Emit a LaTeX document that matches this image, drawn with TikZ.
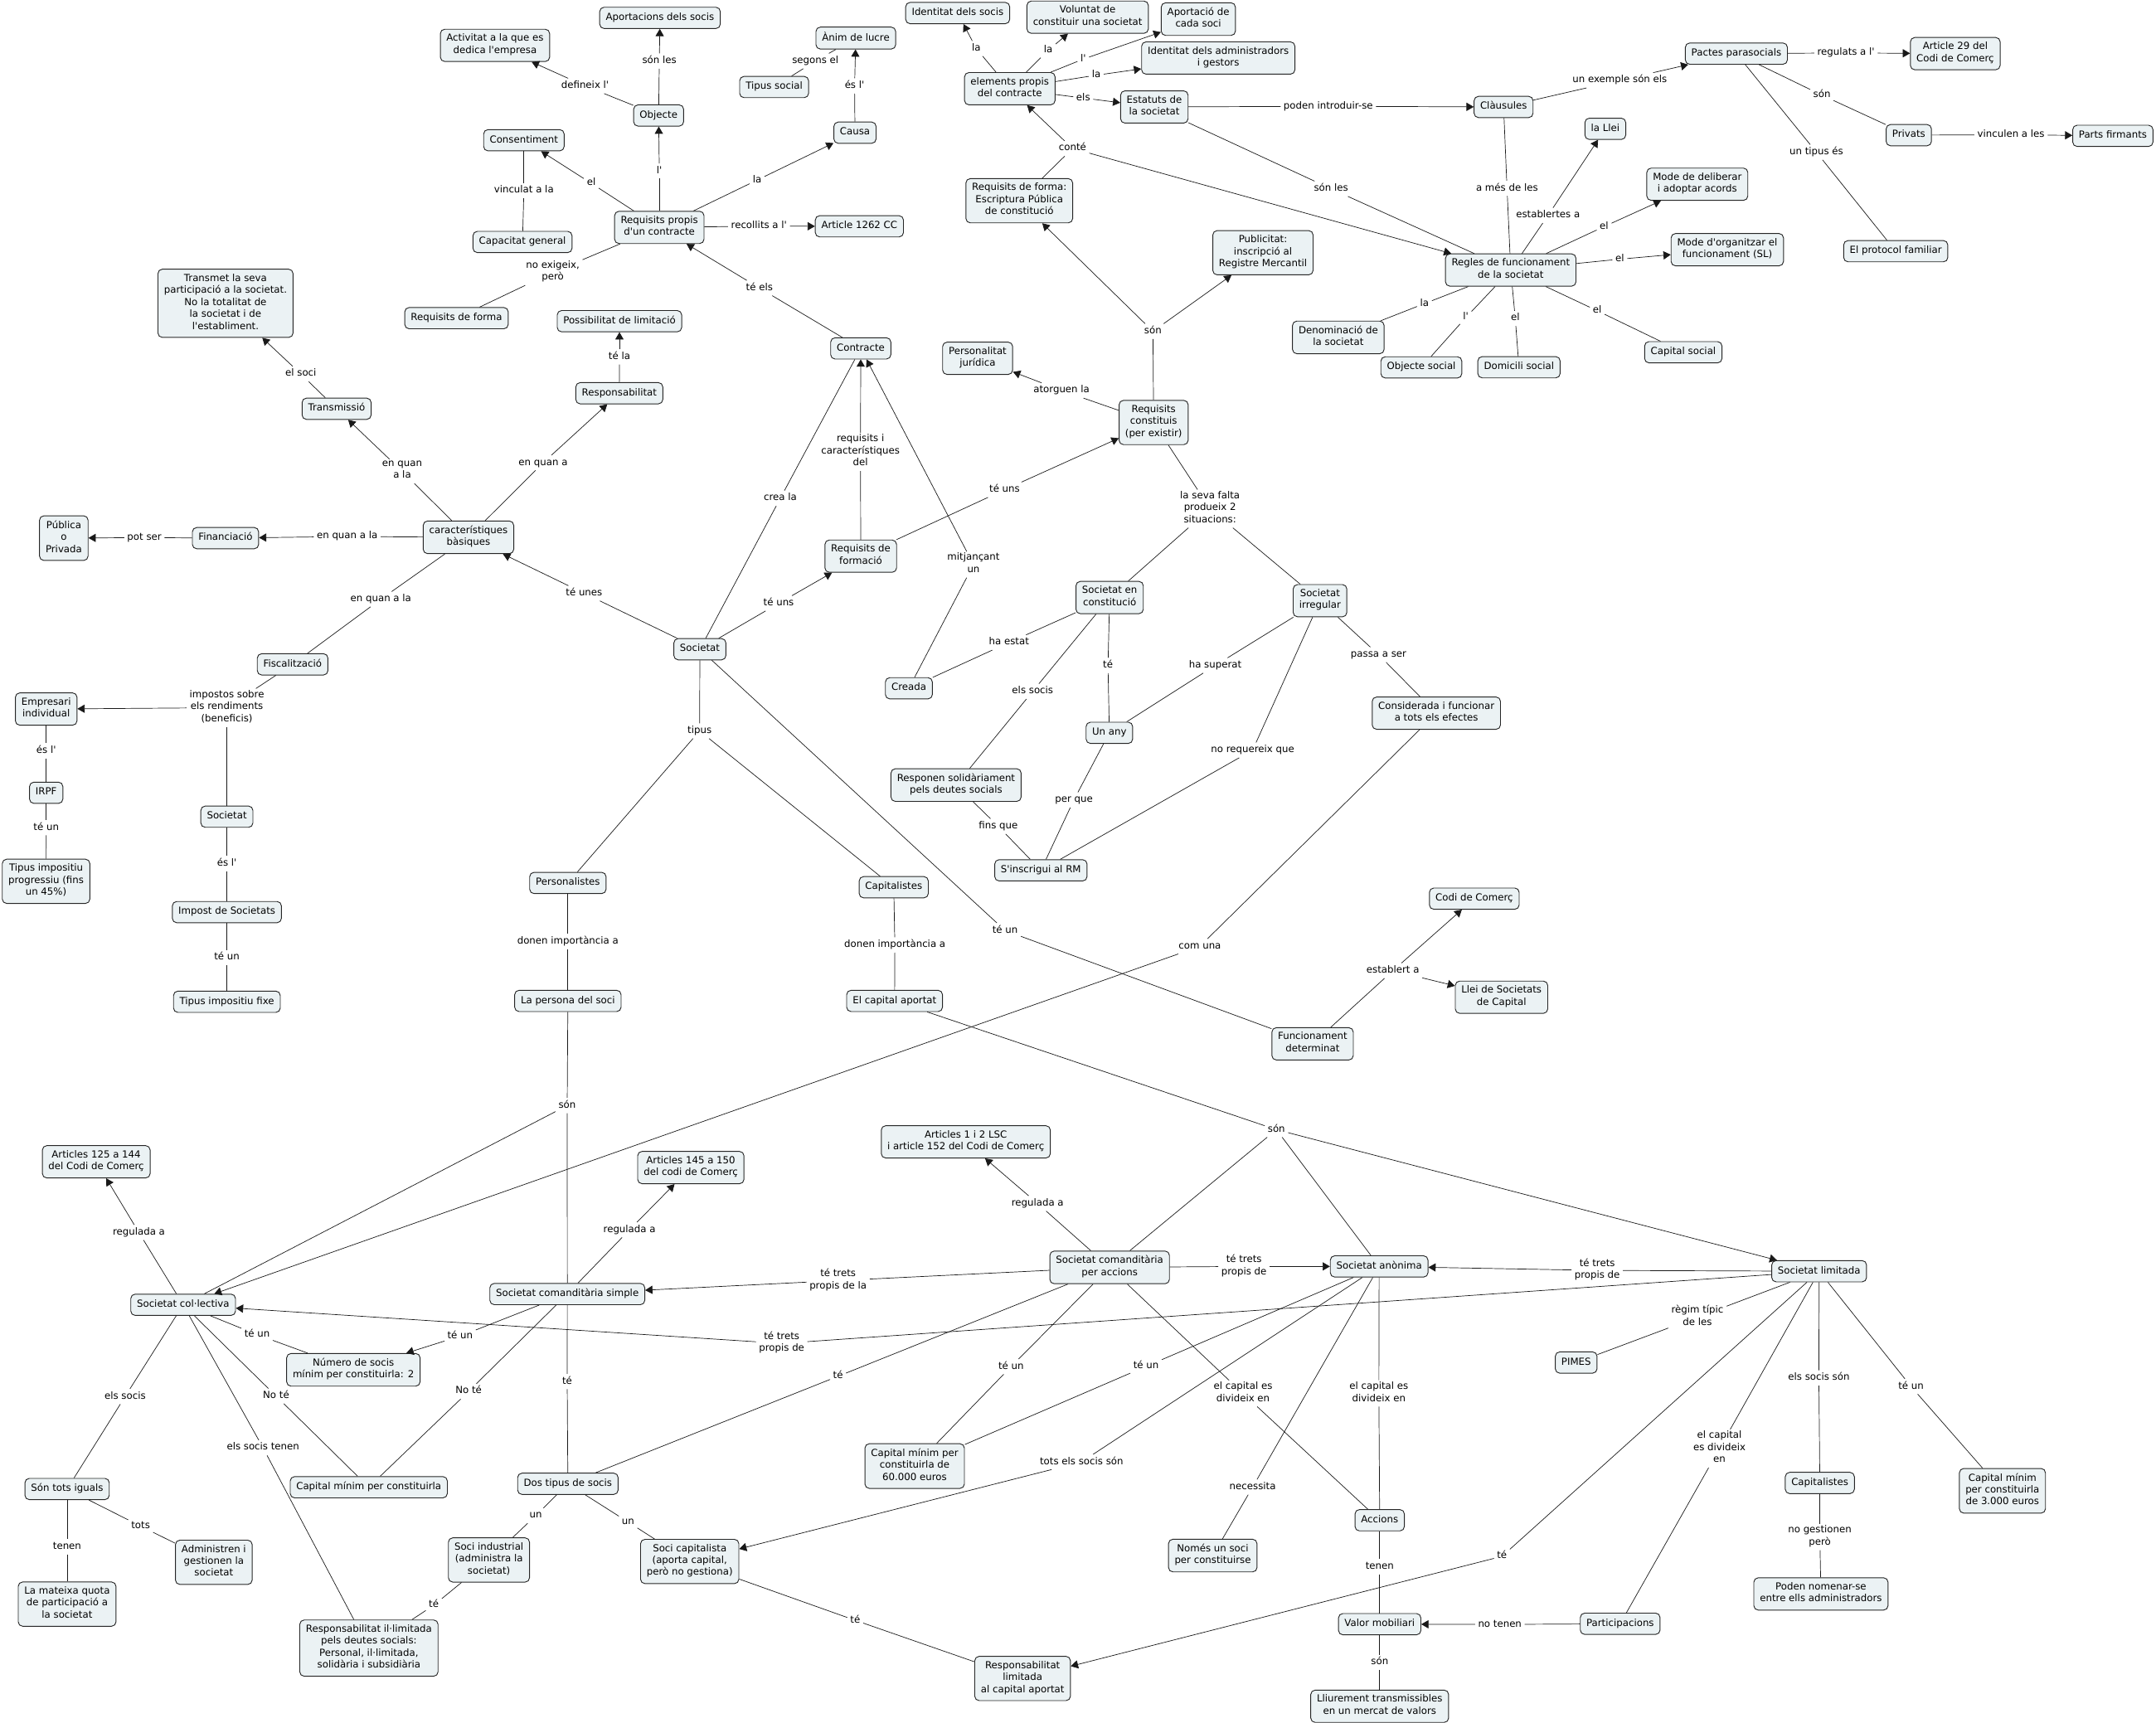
\documentclass[tikz,border=0pt]{standalone}
\usepackage{fontspec}
\newfontfamily\cmapfont{DejaVu Sans}
\usepackage{xcolor}
\usepackage{tikz}
\usetikzlibrary{arrows.meta}

\definecolor{cfill}{RGB}{235,242,244}

\begin{document}
\begin{tikzpicture}[
    x=0.05cm, y=-0.05cm,
    concept/.style={
        rectangle,
        draw=black!85,
        line width=0.8pt,
        fill=cfill,
        rounded corners=4.5pt,
        font=\cmapfont\fontsize{10.1}{12.4}\selectfont,
        align=center,
        inner xsep=6.3pt,
        inner ysep=4.8pt,
        execute at begin node=\strut,
        execute at end node=\strut
    },
    linkword/.style={
        font=\cmapfont\fontsize{10.1}{12.4}\selectfont,
        align=center,
        inner xsep=3pt,
        inner ysep=1.5pt,
        execute at begin node=\strut,
        execute at end node=\strut
    },
    conn/.style={
        line width=0.6pt,
        color=black!90
    },
    arrow/.style={
        conn,
        -{Triangle[length=7.5pt, width=8.5pt]}
    }
]

\fill[white] (0,0) rectangle (1568,1253);
\useasboundingbox (0,0) rectangle (1568,1253);

% contracte i caracteristiques
\node[concept] (act) at (360,33) {Activitat a la que es\\dedica l'empresa};
\node[concept] (aport) at (480,13) {Aportacions dels socis};
\node[concept] (objecte) at (479,84) {Objecte};
\node[concept] (consent) at (381,102) {Consentiment};
\node[concept] (capgen) at (380,176) {Capacitat general};
\node[concept] (reqprop) at (479.5,165.4) {Requisits propis\\d'un contracte};
\node[concept] (art1262) at (625,164.6) {Article 1262 CC};
\node[concept] (anim) at (622.4,27.7) {Ànim de lucre};
\node[concept] (tipsoc) at (563,63.3) {Tipus social};
\node[concept] (causa) at (621.8,96.5) {Causa};
\node[concept] (reqforma) at (332,231.4) {Requisits de forma};
\node[concept] (possib) at (450.5,233.6) {Possibilitat de limitació};
\node[concept] (resp) at (450.4,286) {Responsabilitat};
\node[concept] (transmet) at (164,220.6) {Transmet la seva\\participació a la societat.\\No la totalitat de\\la societat i de\\l'establiment.};
\node[concept] (transmissio) at (244.8,297.3) {Transmissió};
\node[concept] (contracte) at (626,253.4) {Contracte};
\node[concept] (publica) at (46.4,391.4) {Pública\\o\\Privada};
\node[concept] (financ) at (164,391.4) {Financiació};
\node[concept] (caract) at (340.7,390.8) {característiques\\bàsiques};
\node[concept] (reqformacio) at (626,404.5) {Requisits de\\formació};
\node[concept] (fiscal) at (212.8,483.2) {Fiscalització};
\node[concept] (societat) at (509,472.2) {Societat};
\node[concept] (empresari) at (33.6,515.7) {Empresari\\individual};
\node[concept] (irpf) at (33.6,576.6) {IRPF};
\node[concept] (tipprog) at (33.5,641) {Tipus impositiu\\progressiu (fins\\un 45\%)};
\node[concept] (societatb) at (165,594) {Societat};
\node[concept] (impsoc) at (165,663.4) {Impost de Societats};
\node[concept] (tipfix) at (165,728.6) {Tipus impositiu fixe};
\node[concept] (creada) at (661,500.6) {Creada};
\node[concept] (personalistes) at (413,642.2) {Personalistes};
\node[concept] (capitalistes) at (650,645.3) {Capitalistes};
\node[concept] (persona) at (413,728) {La persona del soci};
\node[concept] (capaport) at (650.6,728) {El capital aportat};

% requisits, estatuts i regles
\node[concept] (identitat) at (696.5,9.5) {Identitat dels socis};
\node[concept] (voluntat) at (791,12.5) {Voluntat de\\constituir una societat};
\node[concept] (aportcada) at (871.5,13.9) {Aportació de\\cada soci};
\node[concept] (identadm) at (886,42.2) {Identitat dels administradors\\i gestors};
\node[concept] (elements) at (734.4,64.5) {elements propis\\del contracte};
\node[concept] (estatuts) at (839.5,77.8) {Estatuts de\\la societat};
\node[concept] (clausules) at (1093.5,77.8) {Clàusules};
\node[concept] (pactes) at (1262.8,39) {Pactes parasocials};
\node[concept] (art29) at (1422,39) {Article 29 del\\Codi de Comerç};
\node[concept] (privats) at (1388.2,98.3) {Privats};
\node[concept] (parts) at (1536.6,98.8) {Parts firmants};
\node[concept] (llei) at (1167.5,93.7) {la Llei};
\node[concept] (protocol) at (1378.7,182.7) {El protocol familiar};
\node[concept] (deliberar) at (1234.4,134) {Mode de deliberar\\i adoptar acords};
\node[concept] (organitzar) at (1256.2,181.6) {Mode d'organitzar el\\funcionament (SL)};
\node[concept] (regles) at (1098.7,196.4) {Regles de funcionament\\de la societat};
\node[concept] (reqformaesc) at (741.3,146) {Requisits de forma:\\Escriptura Pública\\de constitució};
\node[concept] (publicitat) at (918.5,183.8) {Publicitat:\\inscripció al\\Registre Mercantil};
\node[concept] (denomin) at (973.3,245.4) {Denominació de\\la societat};
\node[concept] (objsocial) at (1033.7,267.2) {Objecte social};
\node[concept] (domicili) at (1104.7,267.1) {Domicili social};
\node[concept] (capsocial) at (1224.2,256.2) {Capital social};
\node[concept] (personalitat) at (711,260.6) {Personalitat\\jurídica};
\node[concept] (reqconst) at (839,307.3) {Requisits\\constituis\\(per existir)};
\node[concept] (socconst) at (807,434.6) {Societat en\\constitució};
\node[concept] (socirreg) at (960,436.9) {Societat\\irregular};
\node[concept] (unany) at (806.8,533) {Un any};
\node[concept] (considerada) at (1044.6,518.7) {Considerada i funcionar\\a tots els efectes};
\node[concept] (responen) at (695.3,571) {Responen solidàriament\\pels deutes socials};
\node[concept] (inscrigui) at (757,633) {S'inscrigui al RM};
\node[concept] (codicomerc) at (1072.2,653.6) {Codi de Comerç};
\node[concept] (lleisoc) at (1092,725.3) {Llei de Societats\\de Capital};
\node[concept] (funcdet) at (954.6,759.2) {Funcionament\\determinat};

% tipus de societats
\node[concept] (art125) at (70,845) {Articles 125 a 144\\del Codi de Comerç};
\node[concept] (art145) at (502.4,849.2) {Articles 145 a 150\\del codi de Comerç};
\node[concept] (art1i2) at (702.4,830.5) {Articles 1 i 2 LSC\\i article 152 del Codi de Comerç};
\node[concept] (soccol) at (133.2,949) {Societat col·lectiva};
\node[concept] (socsimple) at (412.6,941.2) {Societat comanditària simple};
\node[concept] (socaccions) at (807,921.8) {Societat comanditària\\per accions};
\node[concept] (socanonima) at (1003,921.1) {Societat anònima};
\node[concept] (soclimitada) at (1323,924.6) {Societat limitada};
\node[concept] (numsocis) at (257,996.3) {Número de socis\\mínim per constituirla: 2};
\node[concept] (pimes) at (1146.3,991) {PIMES};
\node[concept] (sontots) at (48.8,1083) {Són tots iguals};
\node[concept] (capminim) at (268.2,1081.7) {Capital mínim per constituirla};
\node[concept] (dostipus) at (413,1079.2) {Dos tipus de socis};
\node[concept] (cap60) at (665.2,1066.3) {Capital mínim per\\constituirla de\\60.000 euros};
\node[concept] (capitalistesb) at (1323.5,1078.6) {Capitalistes};
\node[concept] (cap3000) at (1456.3,1084.3) {Capital mínim\\per constituirla\\de 3.000 euros};
\node[concept] (administren) at (155.5,1136.3) {Administren i\\gestionen la\\societat};
\node[concept] (mateixa) at (48.8,1166.7) {La mateixa quota\\de participació a\\la societat};
\node[concept] (sociind) at (355.6,1134.6) {Soci industrial\\(administra la\\societat)};
\node[concept] (socicap) at (501.6,1135.7) {Soci capitalista\\(aporta capital,\\però no gestiona)};
\node[concept] (respil) at (268.3,1198.7) {Responsabilitat il·limitada\\pels deutes socials:\\Personal, il·limitada,\\solidària i subsidiària};
\node[concept] (resplim) at (743.7,1220.8) {Responsabilitat\\limitada\\al capital aportat};
\node[concept] (nomessoc) at (882,1131.4) {Només un soci\\per constituirse};
\node[concept] (accions) at (1003.4,1105.7) {Accions};
\node[concept] (valor) at (1003.4,1181.3) {Valor mobiliari};
\node[concept] (participacions) at (1178.3,1181) {Participacions};
\node[concept] (lliurement) at (1003.4,1241) {Lliurement transmissibles\\en un mercat de valors};
\node[concept] (poden) at (1324.3,1159.3) {Poden nomenar-se\\entre ells administradors};

% paraules d'enllac
\node[linkword] (t1) at (425.5,62.5) {defineix l'};
\node[linkword] (t2) at (479.5,44.4) {són les};
\node[linkword] (t3) at (479.5,124.4) {l'};
\node[linkword] (t4) at (430,133.3) {el};
\node[linkword] (t5) at (550.6,131) {la};
\node[linkword] (t6) at (552,164.5) {recollits a l'};
\node[linkword] (t7) at (402,198) {no exigeix,\\però};
\node[linkword] (t8) at (381,138.7) {vinculat a la};
\node[linkword] (t9) at (621.5,62.5) {és l'};
\node[linkword] (t10) at (593,44.4) {segons el};
\node[linkword] (t11) at (552.3,209.5) {té els};
\node[linkword] (t12) at (450.5,259.6) {té la};
\node[linkword] (t13) at (395,336.6) {en quan a};
\node[linkword] (t14) at (292.5,342.8) {en quan\\a la};
\node[linkword] (t15) at (218.8,272) {el soci};
\node[linkword] (t16) at (252.5,390.2) {en quan a la};
\node[linkword] (t17) at (105,391) {pot ser};
\node[linkword] (t18) at (277,435.8) {en quan a la};
\node[linkword] (t19) at (165,514.7) {impostos sobre\\els rendiments\\(beneficis)};
\node[linkword] (t20) at (33.6,546.2) {és l'};
\node[linkword] (t21) at (33.6,602) {té un};
\node[linkword] (t22) at (165,628) {és l'};
\node[linkword] (t23) at (165,696.4) {té un};
\node[linkword] (t24) at (424.8,431.5) {té unes};
\node[linkword] (t25) at (567.5,362.4) {crea la};
\node[linkword] (t26) at (625.8,328.7) {requisits i\\característiques\\del};
\node[linkword] (t27) at (708,410.6) {mitjançant\\un};
\node[linkword] (t28) at (566.3,438.8) {té uns};
\node[linkword] (t29) at (730.6,356.2) {té uns};
\node[linkword] (t30) at (508.8,531.6) {tipus};
\node[linkword] (t31) at (413,684.8) {donen importància a};
\node[linkword] (t32) at (650.8,687.3) {donen importància a};
\node[linkword] (t33) at (731,676.8) {té un};
\node[linkword] (t34) at (1013,706) {establert a};
\node[linkword] (t35) at (412.5,804.1) {són};
\node[linkword] (t36) at (872.6,688.3) {com una};
\node[linkword] (t37) at (928.3,821.6) {són};
\node[linkword] (t39) at (710,35.3) {la};
\node[linkword] (t40) at (762.3,36.6) {la};
\node[linkword] (t41) at (787.8,43) {l'};
\node[linkword] (t42) at (797.3,54.7) {la};
\node[linkword] (t43) at (787.8,71.3) {els};
\node[linkword] (t44) at (780,108) {conté};
\node[linkword] (t45) at (966,77.3) {poden introduir-se};
\node[linkword] (t46) at (968,137.3) {són les};
\node[linkword] (t47) at (1178,58.4) {un exemple són els};
\node[linkword] (t48) at (1342.5,38.5) {regulats a l'};
\node[linkword] (t49) at (1325,69.2) {són};
\node[linkword] (t50) at (1462.5,98) {vinculen a les};
\node[linkword] (t51) at (1321,110.7) {un tipus és};
\node[linkword] (t52) at (1096,137) {a més de les};
\node[linkword] (t53) at (1125.8,156.7) {establertes a};
\node[linkword] (t54) at (1166.6,164.8) {el};
\node[linkword] (t55) at (1178,188.5) {el};
\node[linkword] (t56) at (1161.6,226) {el};
\node[linkword] (t57) at (1036,220.8) {la};
\node[linkword] (t58) at (1066,231) {l'};
\node[linkword] (t59) at (1102,231.6) {el};
\node[linkword] (t60) at (838.5,241) {són};
\node[linkword] (t61) at (772,284) {atorguen la};
\node[linkword] (t62) at (880,370) {la seva falta\\produeix 2\\situacions:};
\node[linkword] (t63) at (733.8,467.3) {ha estat};
\node[linkword] (t64) at (751,502.9) {els socis};
\node[linkword] (t65) at (805.8,484) {té};
\node[linkword] (t66) at (883.8,484) {ha superat};
\node[linkword] (t67) at (911,545.6) {no requereix que};
\node[linkword] (t68) at (1002.6,476.2) {passa a ser};
\node[linkword] (t69) at (726,601) {fins que};
\node[linkword] (t70) at (781,581.8) {per que};
\node[linkword] (t71) at (101,896.4) {regulada a};
\node[linkword] (t72) at (457.8,894.5) {regulada a};
\node[linkword] (t73) at (754.6,875.3) {regulada a};
\node[linkword] (t74) at (609.5,931.4) {té trets\\propis de la};
\node[linkword] (t75) at (904.7,921.1) {té trets\\propis de};
\node[linkword] (t76) at (1161.6,924) {té trets\\propis de};
\node[linkword] (t77) at (568.5,977.1) {té trets\\propis de};
\node[linkword] (t78) at (187,970.7) {té un};
\node[linkword] (t79) at (334.6,971.8) {té un};
\node[linkword] (t80) at (200.8,1015.4) {No té};
\node[linkword] (t81) at (340.8,1012) {No té};
\node[linkword] (t82) at (91,1015.7) {els socis};
\node[linkword] (t83) at (191.3,1053) {els socis tenen};
\node[linkword] (t84) at (48.8,1125) {tenen};
\node[linkword] (t85) at (102.3,1110) {tots};
\node[linkword] (t86) at (412.5,1004.8) {té};
\node[linkword] (t87) at (389.6,1102.4) {un};
\node[linkword] (t88) at (456.8,1107) {un};
\node[linkword] (t89) at (315.5,1167.5) {té};
\node[linkword] (t90) at (622,1178.5) {té};
\node[linkword] (t91) at (609.5,1001) {té};
\node[linkword] (t92) at (735.3,994) {té un};
\node[linkword] (t93) at (833.5,993.8) {té un};
\node[linkword] (t94) at (904,1013.5) {el capital es\\divideix en};
\node[linkword] (t95) at (1002.8,1013.5) {el capital es\\divideix en};
\node[linkword] (t96) at (911,1081.6) {necessita};
\node[linkword] (t97) at (786.6,1063.3) {tots els socis són};
\node[linkword] (t98) at (1003.4,1139.5) {tenen};
\node[linkword] (t99) at (1090.8,1181.5) {no tenen};
\node[linkword] (t100) at (1003.4,1209.2) {són};
\node[linkword] (t101) at (1092.3,1132) {té};
\node[linkword] (t102) at (1234.5,958) {règim típic\\de les};
\node[linkword] (t103) at (1250.5,1053.6) {el capital\\es divideix\\en};
\node[linkword] (t104) at (1322.8,1002.2) {els socis són};
\node[linkword] (t105) at (1389.8,1008.4) {té un};
\node[linkword] (t106) at (1323.5,1118) {no gestionen\\però};

% trams sense fletxa
\foreach \a/\b in {
    objecte/t1, objecte/t2, reqprop/t3, reqprop/t4, reqprop/t5, reqprop/t6,
    reqprop/t7, t7/reqforma, capgen/t8, t8/consent, causa/t9, tipsoc/t10,
    t10/anim, contracte/t11, resp/t12, caract/t13, caract/t14, transmissio/t15,
    caract/t16, financ/t17, caract/t18, t18/fiscal, fiscal/t19, t19/societatb,
    empresari/t20, t20/irpf, irpf/t21, t21/tipprog, societatb/t22, t22/impsoc,
    impsoc/t23, t23/tipfix, societat/t24, societat/t25, t25/contracte,
    reqformacio/t26, creada/t27, societat/t28, reqformacio/t29, societat/t30,
    t30/personalistes, t30/capitalistes, personalistes/t31, t31/persona,
    capitalistes/t32, t32/capaport, societat/t33, t33/funcdet, funcdet/t34,
    persona/t35, t35/soccol, t35/socsimple, considerada/t36, capaport/t37,
    t37/socaccions, t37/socanonima,
    elements/t39, elements/t40, elements/t41, elements/t42, elements/t43,
    reqformaesc/t44, estatuts/t45, estatuts/t46, t46/regles, clausules/t47,
    pactes/t48, pactes/t49, t49/privats, privats/t50, pactes/t51, t51/protocol,
    regles/t52, t52/clausules, regles/t53, regles/t54, regles/t55, regles/t56,
    t56/capsocial, regles/t57, t57/denomin, regles/t58, t58/objsocial,
    regles/t59, t59/domicili, reqconst/t60, reqconst/t61, reqconst/t62,
    t62/socconst, t62/socirreg, socconst/t63, t63/creada, socconst/t64,
    t64/responen, socconst/t65, t65/unany, socirreg/t66, t66/unany,
    socirreg/t67, t67/inscrigui, socirreg/t68, t68/considerada, responen/t69,
    t69/inscrigui, unany/t70, t70/inscrigui,
    soccol/t71, socsimple/t72, socaccions/t73, socaccions/t74, socaccions/t75,
    soclimitada/t76, soclimitada/t77, soccol/t78, t78/numsocis, socsimple/t79,
    soccol/t80, t80/capminim, socsimple/t81, t81/capminim, soccol/t82,
    t82/sontots, soccol/t83, t83/respil, sontots/t84, t84/mateixa, sontots/t85,
    t85/administren, socsimple/t86, t86/dostipus, dostipus/t87, t87/sociind,
    dostipus/t88, t88/socicap, sociind/t89, t89/respil, socicap/t90,
    t90/resplim, socaccions/t91, t91/dostipus, socaccions/t92, t92/cap60,
    socanonima/t93, t93/cap60, socaccions/t94, t94/accions, socanonima/t95,
    t95/accions, socanonima/t96, t96/nomessoc, socanonima/t97, accions/t98,
    t98/valor, participacions/t99, valor/t100, t100/lliurement,
    soclimitada/t101, soclimitada/t102, t102/pimes, soclimitada/t103,
    t103/participacions, soclimitada/t104, t104/capitalistesb,
    soclimitada/t105, t105/cap3000, capitalistesb/t106, t106/poden}
    \draw[conn] (\a) -- (\b);

% trams amb fletxa
\foreach \a/\b in {
    t1/act, t2/aport, t3/objecte, t4/consent, t5/causa, t6/art1262, t9/anim,
    t11/reqprop, t12/possib, t13/resp, t14/transmissio, t15/transmet,
    t16/financ, t17/publica, t19/empresari, t24/caract, t26/contracte,
    t27/contracte, t28/reqformacio, t29/reqconst, t34/codicomerc, t34/lleisoc,
    t36/soccol, t37/soclimitada, t39/identitat, t40/voluntat, t41/aportcada,
    t42/identadm, t43/estatuts, t44/elements, t44/regles, t45/clausules,
    t47/pactes, t48/art29, t50/parts, t53/llei, t54/deliberar, t55/organitzar,
    t60/reqformaesc, t60/publicitat, t61/personalitat, t71/art125,
    t72/art145, t73/art1i2, t74/socsimple, t75/socanonima, t76/socanonima,
    t77/soccol, t79/numsocis, t97/socicap, t99/valor, t101/resplim}
    \draw[arrow] (\a) -- (\b);

\end{tikzpicture}
\end{document}
